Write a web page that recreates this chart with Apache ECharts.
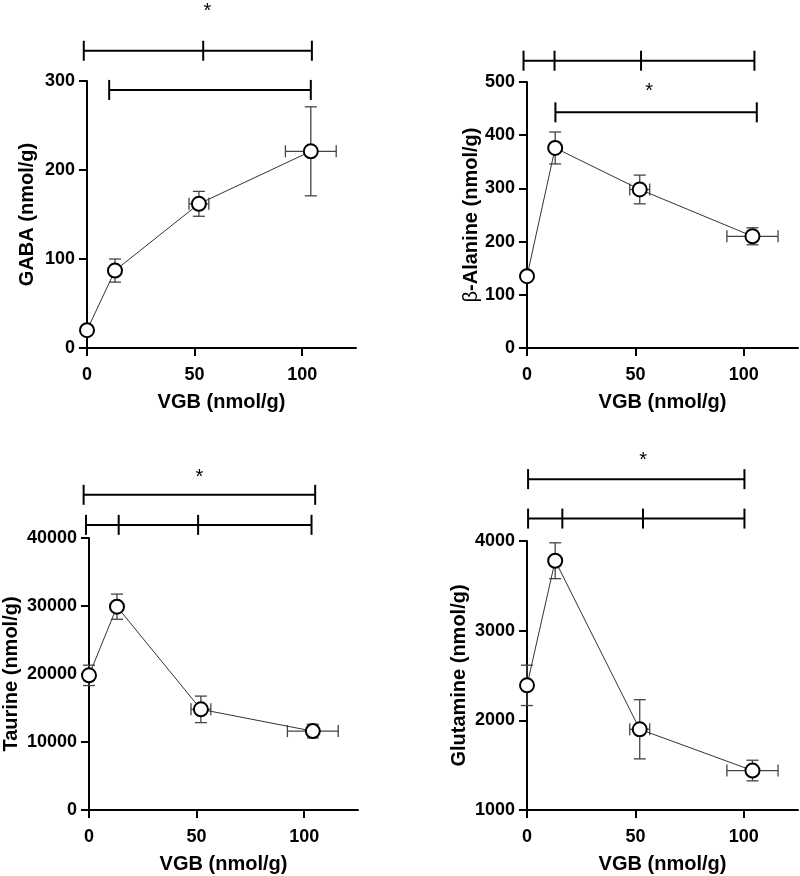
<!DOCTYPE html>
<html>
<head>
<meta charset="utf-8">
<script src="https://cdn.jsdelivr.net/npm/echarts@6/dist/echarts.min.js"></script>
<style>
  html, body { margin: 0; background: #fff; }
  #main { width: 800px; height: 876px; }
</style>
</head>
<body>
<div id="main"></div>
<script>
// VGB dose (x) shared by all four panels
var vgb = [0, 13, 52, 104];
var vgbErr = [0, 1, 4.6, 11.8];

var gaba = [20, 87, 162, 221];
var gabaErr = [3, 13, 14, 50];
var alanine = [135, 376, 298, 210];
var alanineErr = [8, 30, 27, 16];
var taurine = [19800, 29900, 14800, 11600];
var taurineErr = [1500, 1850, 1950, 1000];
var glutamine = [2390, 3780, 1900, 1440];
var glutamineErr = [225, 200, 330, 115];

// significance brackets: tick x positions and bracket height (data units)
var gabaBracketX = [[-1.5, 54, 104.5], [10.3, 104]];
var gabaBracketY = [334, 290];
var gabaStar = [56, 385];
var alanineBracketX = [[-1.6, 12.7, 52.6, 104.9], [13.1, 106]];
var alanineBracketY = [540, 443];
var alanineStar = [56.3, 493];
var taurineBracketX = [[-2.5, 105.1], [-1.4, 13.8, 50.7, 103.4]];
var taurineBracketY = [46350, 41930];
var taurineStar = [51.3, 49800];
var glutamineBracketX = [[0.5, 100.3], [0.5, 16.3, 53.5, 100.3]];
var glutamineBracketY = [4690, 4250];
var glutamineStar = [53.6, 4960];

var font = '"Liberation Sans", Arial, sans-serif';
var chart = echarts.init(document.getElementById('main'));

function plain(v) { return String(v); }

function xAxis(idx) {
  return {
    type: 'value', gridIndex: idx, min: 0, max: 125,
    name: 'VGB (nmol/g)', nameLocation: 'middle', nameGap: 44,
    nameTextStyle: { color: '#000', fontSize: 20, fontWeight: 'bold', fontFamily: font },
    axisLine: { lineStyle: { color: '#000', width: 2 } },
    axisTick: { length: 8, lineStyle: { color: '#000', width: 2 }, customValues: [0, 50, 100] },
    axisLabel: { color: '#000', fontSize: 18, fontWeight: 'bold', fontFamily: font, margin: 18,
      customValues: [0, 50, 100], formatter: plain },
    splitLine: { show: false }
  };
}

function yAxis(idx, name, min, max, interval, gap) {
  return {
    type: 'value', gridIndex: idx, min: min, max: max, interval: interval,
    name: name, nameLocation: 'middle', nameGap: gap,
    nameTextStyle: { color: '#000', fontSize: 20, fontWeight: 'bold', fontFamily: font,
      rich: { b: { fontSize: 20, fontWeight: 'normal', fontFamily: font, color: '#000' } } },
    axisLine: { show: true, lineStyle: { color: '#000', width: 2 } },
    axisTick: { show: true, length: 8, lineStyle: { color: '#000', width: 2 } },
    axisLabel: { color: '#000', fontSize: 18, fontWeight: 'bold', fontFamily: font, margin: 12, formatter: plain },
    splitLine: { show: false }
  };
}

function lineSeries(idx, ys) {
  return {
    type: 'line', xAxisIndex: idx, yAxisIndex: idx, z: 4,
    data: vgb.map(function (x, i) { return [x, ys[i]]; }),
    symbol: 'circle', symbolSize: 14,
    itemStyle: { color: '#fff', borderColor: '#000', borderWidth: 2 },
    lineStyle: { color: '#333', width: 1 },
    emphasis: { disabled: true }, silent: true
  };
}

function seg(x1, y1, x2, y2, st) {
  return { type: 'line', shape: { x1: x1, y1: y1, x2: x2, y2: y2 }, style: st };
}

function errorSeries(idx, ys, yErr) {
  return {
    type: 'custom', xAxisIndex: idx, yAxisIndex: idx, z: 3, silent: true,
    data: vgb.map(function (x, i) { return [x, ys[i], vgbErr[i], yErr[i]]; }),
    renderItem: function (params, api) {
      var x = api.value(0), y = api.value(1), ex = api.value(2), ey = api.value(3);
      var top = api.coord([x, y + ey]), bot = api.coord([x, y - ey]);
      var l = api.coord([x - ex, y]), r = api.coord([x + ex, y]);
      var st = { stroke: '#444', lineWidth: 1.3 };
      var ch = [
        seg(top[0], top[1], bot[0], bot[1], st),
        seg(top[0] - 6, top[1], top[0] + 6, top[1], st),
        seg(bot[0] - 6, bot[1], bot[0] + 6, bot[1], st)
      ];
      if (ex > 0) {
        ch.push(seg(l[0], l[1], r[0], r[1], st));
        ch.push(seg(l[0], l[1] - 6, l[0], l[1] + 6, st));
        ch.push(seg(r[0], r[1] - 6, r[0], r[1] + 6, st));
      }
      return { type: 'group', children: ch };
    }
  };
}

function bracketSeries(idx, bx, by) {
  return {
    type: 'custom', xAxisIndex: idx, yAxisIndex: idx, z: 5, silent: true, clip: false,
    data: by.map(function (y, i) { return [bx[i][0], y]; }),
    renderItem: function (params, api) {
      var xs = bx[params.dataIndex], y = by[params.dataIndex];
      var a = api.coord([xs[0], y]), b = api.coord([xs[xs.length - 1], y]);
      var st = { stroke: '#000', lineWidth: 2 };
      var ch = [seg(a[0], a[1], b[0], b[1], st)];
      xs.forEach(function (x) {
        var p = api.coord([x, y]);
        ch.push(seg(p[0], p[1] - 10, p[0], p[1] + 10, st));
      });
      return { type: 'group', children: ch };
    }
  };
}

function starSeries(idx, star) {
  return {
    type: 'custom', xAxisIndex: idx, yAxisIndex: idx, z: 5, silent: true, clip: false,
    data: [star],
    renderItem: function (params, api) {
      var p = api.coord([api.value(0), api.value(1)]);
      // the asterisk glyph sits high in its box, so nudge it down
      return { type: 'text', x: p[0], y: p[1] + 6,
        style: { text: '*', fontSize: 20, fontFamily: font, fill: '#000', align: 'center', verticalAlign: 'middle' } };
    }
  };
}

var option = {
  backgroundColor: '#fff',
  animation: false,
  grid: [
    { left: 87, top: 81, width: 269, height: 267 },
    { left: 527, top: 82, width: 271, height: 266 },
    { left: 87, top: 538, width: 271, height: 272 },
    { left: 527, top: 541, width: 271, height: 269 }
  ],
  xAxis: [xAxis(0), xAxis(1), xAxis(2), xAxis(3)],
  yAxis: [
    yAxis(0, 'GABA (nmol/g)', 0, 300, 100, 50),
    yAxis(1, '{b|β}-Alanine (nmol/g)', 0, 500, 100, 46),
    yAxis(2, 'Taurine (nmol/g)', 0, 40000, 10000, 68),
    yAxis(3, 'Glutamine (nmol/g)', 1000, 4000, 1000, 58)
  ],
  series: [
    errorSeries(0, gaba, gabaErr), lineSeries(0, gaba),
    bracketSeries(0, gabaBracketX, gabaBracketY), starSeries(0, gabaStar),
    errorSeries(1, alanine, alanineErr), lineSeries(1, alanine),
    bracketSeries(1, alanineBracketX, alanineBracketY), starSeries(1, alanineStar),
    errorSeries(2, taurine, taurineErr), lineSeries(2, taurine),
    bracketSeries(2, taurineBracketX, taurineBracketY), starSeries(2, taurineStar),
    errorSeries(3, glutamine, glutamineErr), lineSeries(3, glutamine),
    bracketSeries(3, glutamineBracketX, glutamineBracketY), starSeries(3, glutamineStar)
  ]
};

chart.setOption(option);
</script>
</body>
</html>
